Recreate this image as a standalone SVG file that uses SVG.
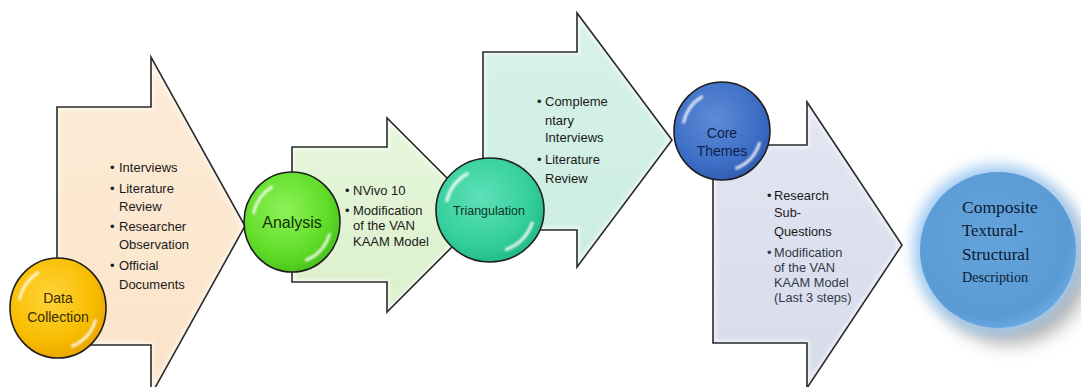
<svg xmlns="http://www.w3.org/2000/svg" width="1081" height="387" viewBox="0 0 1081 387">
  <style>
    .body { stroke: none; }
    .bevel { fill: none; stroke: #ffffff; stroke-width: 6; opacity: 0.6; filter: url(#soft); }
    .edge { fill: none; stroke: #2a2a2a; stroke-width: 1.6; stroke-linejoin: miter; }
    .item { font-family: "Liberation Sans", Arial, sans-serif; font-size: 13px; fill: #1a1a1a; }
    .ring { stroke: #1e1e1e; stroke-width: 1.6; }
    .gloss { fill: none; stroke: #ffffff; stroke-width: 0.06; stroke-linecap: round; opacity: 0.85; }
    .label { font-family: "Liberation Sans", Arial, sans-serif; text-anchor: middle; }
    .serif { font-family: "Liberation Serif", "Times New Roman", serif; fill: #0c1a33; }
  </style>
  <defs>
    <filter id="soft" x="-10%" y="-10%" width="120%" height="120%">
      <feGaussianBlur stdDeviation="2"/>
    </filter>
    <filter id="glossBlur" x="-20%" y="-20%" width="140%" height="140%">
      <feGaussianBlur stdDeviation="0.02"/>
    </filter>
    <filter id="glow" x="-30%" y="-30%" width="160%" height="160%">
      <feGaussianBlur stdDeviation="7"/>
    </filter>
    <filter id="shadow" x="-30%" y="-30%" width="160%" height="160%">
      <feGaussianBlur stdDeviation="9"/>
    </filter>

    <!-- block arrow outlines -->
    <path id="shapeA" d="M57,107 H151 V57 L245,226 L151,395 V345 H57 Z"/>
    <path id="shapeB" d="M292,147 H387 V118 L484,215 L387,312 V282 H292 Z"/>
    <path id="shapeC" d="M483,52 H577 V13 L672,140 L577,267 V230 H483 Z"/>
    <path id="shapeD" d="M713,145 H807 V102 L902,245 L807,388 V343 H713 Z"/>
    <clipPath id="clipA"><use href="#shapeA"/></clipPath>
    <clipPath id="clipB"><use href="#shapeB"/></clipPath>
    <clipPath id="clipC"><use href="#shapeC"/></clipPath>
    <clipPath id="clipD"><use href="#shapeD"/></clipPath>

    <linearGradient id="gA" x1="0" y1="0" x2="0" y2="1">
      <stop offset="0" stop-color="#fdecd8"/>
      <stop offset="1" stop-color="#fbe3c8"/>
    </linearGradient>
    <linearGradient id="gB" x1="0" y1="0" x2="0" y2="1">
      <stop offset="0" stop-color="#e6f6dc"/>
      <stop offset="1" stop-color="#dbf0cb"/>
    </linearGradient>
    <linearGradient id="gC" x1="0" y1="0" x2="0" y2="1">
      <stop offset="0" stop-color="#d8f2e9"/>
      <stop offset="1" stop-color="#ccede1"/>
    </linearGradient>
    <linearGradient id="gD" x1="0" y1="0" x2="0" y2="1">
      <stop offset="0" stop-color="#e3e6f2"/>
      <stop offset="1" stop-color="#d6dbeb"/>
    </linearGradient>

    <radialGradient id="rGold" cx="0.42" cy="0.38" r="0.65">
      <stop offset="0" stop-color="#ffd43a"/>
      <stop offset="0.7" stop-color="#f8bd00"/>
      <stop offset="1" stop-color="#e9a400"/>
    </radialGradient>
    <radialGradient id="rGreen" cx="0.42" cy="0.38" r="0.65">
      <stop offset="0" stop-color="#8ef25a"/>
      <stop offset="0.7" stop-color="#5fdc28"/>
      <stop offset="1" stop-color="#47c21a"/>
    </radialGradient>
    <radialGradient id="rTeal" cx="0.42" cy="0.38" r="0.65">
      <stop offset="0" stop-color="#5fe0b8"/>
      <stop offset="0.7" stop-color="#34cf9c"/>
      <stop offset="1" stop-color="#22b886"/>
    </radialGradient>
    <radialGradient id="rBlue" cx="0.42" cy="0.38" r="0.65">
      <stop offset="0" stop-color="#5f8ad6"/>
      <stop offset="0.7" stop-color="#3e6fc6"/>
      <stop offset="1" stop-color="#2f5bb0"/>
    </radialGradient>
    <radialGradient id="rSky" cx="0.45" cy="0.42" r="0.6">
      <stop offset="0" stop-color="#64a3da"/>
      <stop offset="0.85" stop-color="#5b9bd5"/>
      <stop offset="1" stop-color="#6aa8e0"/>
    </radialGradient>

    <!-- glossy rim highlights on a unit circle -->
    <g id="gloss" class="gloss" filter="url(#glossBlur)">
      <path d="M-0.80,-0.18 A0.82,0.82 0 0 1 -0.42,-0.70"/>
      <path d="M0.78,0.25 A0.82,0.82 0 0 1 0.30,0.76"/>
    </g>
  </defs>

  <!-- process arrows -->
  <g id="connectors">
    <g id="arrow-data-collection">
      <use href="#shapeA" class="body" fill="url(#gA)"/>
      <use href="#shapeA" class="bevel" clip-path="url(#clipA)"/>
      <use href="#shapeA" class="edge"/>
    </g>
    <g id="arrow-analysis">
      <use href="#shapeB" class="body" fill="url(#gB)"/>
      <use href="#shapeB" class="bevel" clip-path="url(#clipB)"/>
      <use href="#shapeB" class="edge"/>
    </g>
    <g id="arrow-triangulation">
      <use href="#shapeC" class="body" fill="url(#gC)"/>
      <use href="#shapeC" class="bevel" clip-path="url(#clipC)"/>
      <use href="#shapeC" class="edge"/>
    </g>
    <g id="arrow-core-themes">
      <use href="#shapeD" class="body" fill="url(#gD)"/>
      <use href="#shapeD" class="bevel" clip-path="url(#clipD)"/>
      <use href="#shapeD" class="edge"/>
    </g>
  </g>

  <!-- bullet lists carried by each arrow -->
  <g id="list-data-collection" class="item">
    <text x="110" y="172">•</text><text x="119" y="172">Interviews</text>
    <text x="110" y="193">•</text><text x="119" y="193">Literature</text>
    <text x="119" y="210.5">Review</text>
    <text x="110" y="231">•</text><text x="119" y="231">Researcher</text>
    <text x="119" y="249">Observation</text>
    <text x="110" y="270">•</text><text x="119" y="270">Official</text>
    <text x="119" y="288.5">Documents</text>
  </g>
  <g id="list-analysis" class="item">
    <text x="345" y="194.5">•</text><text x="353" y="194.5">NVivo 10</text>
    <text x="345" y="214.5">•</text><text x="353" y="214.5">Modification</text>
    <text x="353" y="229.5">of the VAN</text>
    <text x="353" y="246">KAAM Model</text>
  </g>
  <g id="list-triangulation" class="item">
    <text x="537" y="106">•</text><text x="545" y="106">Compleme</text>
    <text x="545" y="125">ntary</text>
    <text x="545" y="142">Interviews</text>
    <text x="537" y="164">•</text><text x="545" y="164">Literature</text>
    <text x="545" y="183">Review</text>
  </g>
  <g id="list-core-themes" class="item" style="font-size:12.8px">
    <text x="767" y="199.5">•</text><text x="774" y="199.5">Research</text>
    <text x="774" y="216.5">Sub-</text>
    <text x="774" y="235.5">Questions</text>
    <text x="767" y="256.5" fill="#33384a">•</text><text x="774" y="256.5" fill="#33384a">Modification</text>
    <text x="774" y="271.5" fill="#33384a">of the VAN</text>
    <text x="774" y="286.5" fill="#33384a">KAAM Model</text>
    <text x="774" y="301.5" fill="#33384a">(Last 3 steps)</text>
  </g>

  <!-- stage nodes -->
  <g id="node-data-collection">
    <ellipse cx="58" cy="308" rx="48" ry="50" fill="url(#rGold)" class="ring"/>
    <use href="#gloss" transform="translate(58,308) scale(48,50)"/>
    <text class="label" x="58" y="303" style="font-size:14px;fill:#3a2c00">Data</text>
    <text class="label" x="58" y="322" style="font-size:14px;fill:#3a2c00">Collection</text>
  </g>
  <g id="node-analysis">
    <ellipse cx="292" cy="222" rx="48" ry="50" fill="url(#rGreen)" class="ring"/>
    <use href="#gloss" transform="translate(292,222) scale(48,50)"/>
    <text class="label" x="292" y="228" style="font-size:16px;fill:#143300">Analysis</text>
  </g>
  <g id="node-triangulation">
    <ellipse cx="490" cy="210" rx="54" ry="52" fill="url(#rTeal)" class="ring"/>
    <use href="#gloss" transform="translate(490,210) scale(54,52)"/>
    <text class="label" x="489" y="214.5" style="font-size:12.5px;fill:#0a3326">Triangulation</text>
  </g>
  <g id="node-core-themes">
    <ellipse cx="722" cy="131" rx="48" ry="49" fill="url(#rBlue)" class="ring"/>
    <use href="#gloss" transform="translate(722,131) scale(48,49)"/>
    <text class="label" x="722" y="138" style="font-size:14px;fill:#0d1f4a">Core</text>
    <text class="label" x="722" y="156" style="font-size:14px;fill:#0d1f4a">Themes</text>
  </g>
  <g id="node-composite">
    <circle cx="1010" cy="264" r="80" fill="#6f6f6f" opacity="0.55" filter="url(#shadow)"/>
    <circle cx="997" cy="249" r="84" fill="#9fcaf2" filter="url(#glow)"/>
    <circle cx="998" cy="250" r="78" fill="url(#rSky)"/>
    <text class="serif" x="962" y="213" style="font-size:17.5px">Composite</text>
    <text class="serif" x="962" y="236" style="font-size:16.8px">Textural-</text>
    <text class="serif" x="962" y="260" style="font-size:17.2px">Structural</text>
    <text class="serif" x="962" y="282" style="font-size:14.2px">Description</text>
  </g>
</svg>
